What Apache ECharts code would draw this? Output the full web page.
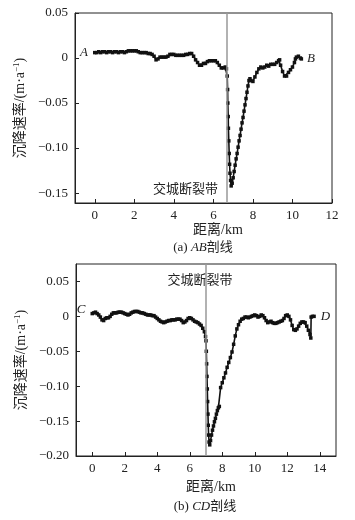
<!DOCTYPE html>
<html>
<head>
<meta charset="utf-8">
<script src="https://cdn.jsdelivr.net/npm/echarts@6/dist/echarts.min.js"></script>
<style>html,body{margin:0;padding:0;background:#fff;}#c{width:355px;height:520px;}</style>
</head>
<body>
<div id="c"></div>
<script>
// ---- AB profile (distance km, subsidence rate m/a) ----
const abX = [0.0,0.1,0.2,0.3,0.4,0.5,0.6,0.7,0.8,0.9,1.0,1.1,1.2,1.3,1.4,1.5,1.6,1.7,1.8,1.9,2.0,2.1,2.2,2.3,2.4,2.5,2.6,2.7,2.8,2.9,3.0,3.1,3.2,3.3,3.4,3.5,3.6,3.7,3.8,3.9,4.0,4.1,4.2,4.3,4.4,4.5,4.6,4.7,4.8,4.9,5.0,5.1,5.2,5.3,5.4,5.5,5.6,5.7,5.8,5.9,6.0,6.1,6.2,6.3,6.4,6.5,6.6,6.66,
  6.70,6.72,6.73,6.75,6.76,6.78,6.80,6.82,6.84,6.87,6.90,
  6.95,7.0,7.05,7.1,7.15,7.2,7.25,7.3,7.35,7.4,7.45,7.5,7.55,7.6,7.65,7.7,7.75,
  7.8,7.85,7.9,8.0,8.1,8.2,8.3,8.4,8.5,8.6,8.7,8.8,8.9,9.0,9.1,9.2,9.3,9.35,9.4,9.5,9.6,9.7,9.8,9.9,10.0,10.1,10.15,10.2,10.3,10.4,10.45];
const abY = [0.006,0.006,0.007,0.006,0.007,0.007,0.006,0.007,0.007,0.006,0.007,0.007,0.006,0.007,0.007,0.006,0.007,0.008,0.008,0.008,0.008,0.008,0.007,0.006,0.006,0.006,0.006,0.005,0.005,0.004,0.002,-0.002,-0.001,0.001,0.001,0.001,0.001,0.002,0.004,0.004,0.004,0.003,0.003,0.003,0.003,0.003,0.004,0.004,0.005,0.005,0.002,-0.002,-0.005,-0.008,-0.008,-0.006,-0.006,-0.004,-0.003,-0.003,-0.003,-0.003,-0.005,-0.008,-0.011,-0.011,-0.010,-0.012,
  -0.020,-0.035,-0.050,-0.065,-0.078,-0.092,-0.106,-0.118,-0.128,-0.136,-0.142,
  -0.139,-0.133,-0.126,-0.119,-0.112,-0.106,-0.099,-0.092,-0.086,-0.079,-0.072,-0.066,-0.059,-0.052,-0.045,-0.038,-0.031,
  -0.025,-0.023,-0.025,-0.026,-0.021,-0.016,-0.012,-0.010,-0.011,-0.010,-0.008,-0.009,-0.007,-0.007,-0.007,-0.005,-0.003,-0.002,-0.008,-0.015,-0.020,-0.020,-0.016,-0.013,-0.010,-0.005,-0.001,0.001,0.002,0.000,-0.001];

// ---- CD profile ----
const cdX = [0.0,0.1,0.2,0.3,0.4,0.5,0.6,0.7,0.8,0.9,1.0,1.1,1.2,1.3,1.4,1.5,1.6,1.7,1.8,1.9,2.0,2.1,2.2,2.3,2.4,2.5,2.6,2.7,2.8,2.9,3.0,3.1,3.2,3.3,3.4,3.5,3.6,3.7,3.8,3.9,4.0,4.1,4.2,4.3,4.4,4.5,4.6,4.7,4.8,4.9,5.0,5.1,5.2,5.3,5.4,5.5,5.6,5.7,5.8,5.9,6.0,6.1,6.2,6.3,6.4,6.5,6.6,6.7,6.8,6.9,6.97,
  7.0,7.02,7.04,7.06,7.08,7.10,7.12,7.14,7.16,7.19,7.23,7.28,7.34,7.40,7.46,7.52,7.58,7.64,7.70,7.76,7.82,
  7.9,8.0,8.1,8.2,8.3,8.4,8.5,8.6,8.7,8.8,8.9,9.0,9.1,9.2,9.3,9.4,9.5,9.6,9.7,9.8,9.9,10.0,10.1,10.2,10.3,10.4,10.5,10.6,10.7,10.8,10.9,11.0,11.1,11.2,11.3,11.4,11.5,11.6,11.7,11.8,11.9,12.0,12.1,12.2,12.3,12.4,12.5,12.6,12.7,12.8,12.9,13.0,13.1,13.2,13.3,13.4,13.45,13.47,13.55,13.65];
const cdY = [0.004,0.005,0.006,0.004,0.002,-0.001,-0.005,-0.006,-0.003,-0.002,-0.002,0.000,0.003,0.005,0.005,0.005,0.006,0.006,0.006,0.005,0.004,0.003,0.002,0.003,0.005,0.006,0.007,0.007,0.007,0.006,0.005,0.005,0.004,0.003,0.002,0.002,0.002,0.001,0.001,-0.001,-0.003,-0.005,-0.007,-0.008,-0.009,-0.008,-0.007,-0.006,-0.006,-0.005,-0.005,-0.005,-0.004,-0.004,-0.004,-0.006,-0.009,-0.008,-0.006,-0.003,-0.002,-0.003,-0.005,-0.007,-0.008,-0.009,-0.011,-0.013,-0.017,-0.022,-0.029,
  -0.035,-0.050,-0.068,-0.086,-0.104,-0.122,-0.140,-0.156,-0.170,-0.180,-0.184,-0.178,-0.170,-0.163,-0.157,-0.151,-0.146,-0.140,-0.135,-0.131,-0.129,
  -0.102,-0.095,-0.088,-0.081,-0.073,-0.066,-0.059,-0.051,-0.040,-0.028,-0.018,-0.012,-0.007,-0.004,-0.003,-0.001,-0.001,-0.002,-0.001,0.000,0.001,0.002,0.001,-0.001,0.000,0.002,0.001,-0.002,-0.006,-0.009,-0.008,-0.007,-0.009,-0.010,-0.010,-0.009,-0.008,-0.007,-0.006,-0.003,0.001,0.002,0.000,-0.005,-0.013,-0.019,-0.020,-0.018,-0.014,-0.010,-0.008,-0.008,-0.009,-0.014,-0.020,-0.026,-0.031,-0.001,0.000,0.000];

// ---- axes / annotations ----
const abXTicks = [0,2,4,6,8,10,12];
const abYTicks = [-0.15,-0.10,-0.05,0,0.05];
const cdXTicks = [0,2,4,6,8,10,12,14];
const cdYTicks = [-0.20,-0.15,-0.10,-0.05,0,0.05];
const faultAB = 6.68;
const faultCD = 7.0;
const faultName = '交城断裂带';
const yName = '沉降速率/(m·a{sup|−1})';
const xName = '距离/km';

const FONT = '"Liberation Serif","Noto Sans CJK SC",serif';
const TXT = '#222';

function pts(xs, ys, first, last){
  return xs.map((x,i)=>{
    const d = {value:[x, ys[i]]};
    if(i===0) d.label = first;
    if(i===xs.length-1) d.label = last;
    return d;
  });
}
function yFmt(v){ if(Math.abs(v)<1e-9) return '0'; return v.toFixed(2).replace('-','−'); }

function xAxis(idx,min,max,ticks){
  return {type:'value', gridIndex:idx, min:min, max:max,
    axisLine:{onZero:false, lineStyle:{color:'#222', width:1}},
    axisTick:{inside:true, length:4, customValues:ticks, lineStyle:{color:'#222'}},
    axisLabel:{customValues:ticks, color:TXT, fontFamily:FONT, fontSize:13, margin:6},
    splitLine:{show:false}};
}
function yAxis(idx,min,max,ticks,gap){
  return {type:'value', gridIndex:idx, min:min, max:max,
    name:yName, nameLocation:'middle', nameGap:gap, nameRotate:90,
    nameTextStyle:{color:TXT, fontFamily:FONT, fontSize:14,
      rich:{sup:{fontSize:9, verticalAlign:'top', color:TXT, fontFamily:FONT, padding:[0,0,6,0]}}},
    axisLine:{onZero:false, lineStyle:{color:'#222', width:1}},
    axisTick:{inside:true, length:4, customValues:ticks, lineStyle:{color:'#222'}},
    axisLabel:{customValues:ticks, formatter:yFmt, color:TXT, fontFamily:FONT, fontSize:13, margin:7},
    splitLine:{show:false}};
}
function endLabel(txt,pos,dist,off){
  return {show:true, formatter:txt, position:pos, distance:dist, offset:off||[0,0],
    color:TXT, fontFamily:FONT, fontStyle:'italic', fontSize:13};
}
function lineSeries(idx,xs,ys,first,last,fault){
  return {type:'line', xAxisIndex:idx, yAxisIndex:idx, data:pts(xs,ys,first,last),
    symbol:'rect', symbolSize:3.5, showAllSymbol:true,
    itemStyle:{color:'#111'}, lineStyle:{color:'#111', width:1.6},
    animation:false, z:3,
    markLine:{silent:true, symbol:'none', label:{show:false},
      lineStyle:{color:'#999', width:1.5, type:'solid'},
      data:[{xAxis:fault}]}};
}

const chart = echarts.init(document.getElementById('c'), null, {renderer:'canvas'});
chart.setOption({
  backgroundColor:'#fff',
  animation:false,
  grid:[
    {left:75, top:13, width:257, height:190, show:true, borderColor:'#222', borderWidth:1, backgroundColor:'transparent'},
    {left:76, top:264, width:260, height:192, show:true, borderColor:'#222', borderWidth:1, backgroundColor:'transparent'}
  ],
  xAxis:[xAxis(0,-1,12,abXTicks), xAxis(1,-1,15,cdXTicks)],
  yAxis:[yAxis(0,-0.161,0.05,abYTicks,47), yAxis(1,-0.2,0.075,cdYTicks,47)],
  series:[
    lineSeries(0,abX,abY,endLabel('A','left',5),endLabel('B','right',4),faultAB),
    lineSeries(1,cdX,cdY,endLabel('C','left',5,[0,-4]),endLabel('D','right',5),faultCD)
  ],
  graphic:[
    {type:'text', x:218, y:190, style:{text:faultName, fill:TXT, font:'13px '+FONT, align:'right', verticalAlign:'middle'}},
    {type:'text', x:200, y:281, style:{text:faultName, fill:TXT, font:'13px '+FONT, align:'center', verticalAlign:'middle'}},
    {type:'text', x:218, y:230, style:{text:xName, fill:TXT, font:'14px '+FONT, align:'center', verticalAlign:'middle'}},
    {type:'text', x:211, y:487, style:{text:xName, fill:TXT, font:'14px '+FONT, align:'center', verticalAlign:'middle'}},
    {type:'text', x:203, y:248, style:{text:'(a) {i|AB}剖线', fill:TXT, font:'13px '+FONT, align:'center', verticalAlign:'middle',
      rich:{i:{fontStyle:'italic', fontFamily:FONT, fontSize:13, fill:TXT}}}},
    {type:'text', x:205, y:507, style:{text:'(b) {i|CD}剖线', fill:TXT, font:'13px '+FONT, align:'center', verticalAlign:'middle',
      rich:{i:{fontStyle:'italic', fontFamily:FONT, fontSize:13, fill:TXT}}}}
  ]
});
</script>
</body>
</html>
